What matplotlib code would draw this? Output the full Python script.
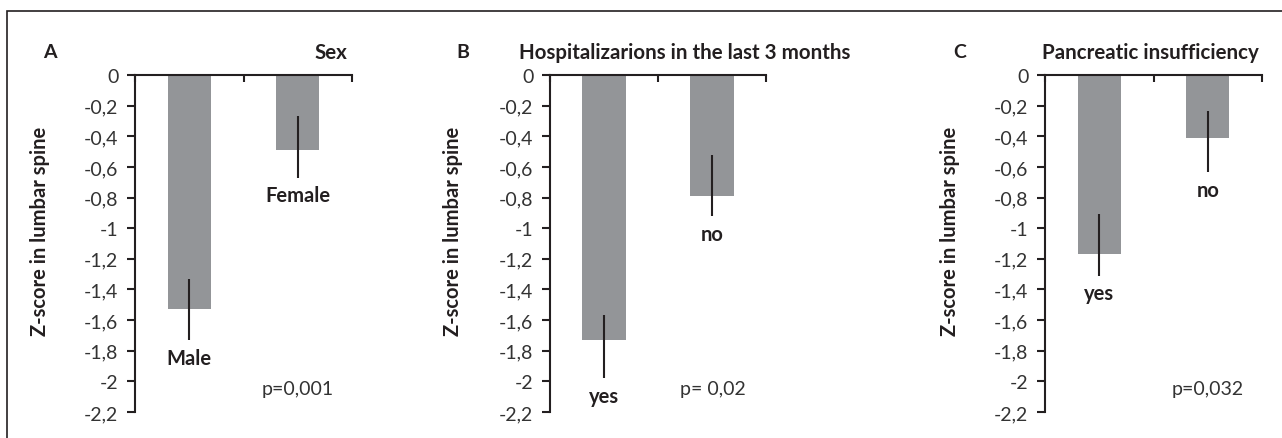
import matplotlib
matplotlib.use('Agg')
import matplotlib.pyplot as plt
from matplotlib.patches import Rectangle

plt.rcParams['font.family'] = ['Lato', 'DejaVu Sans']

# Data
panel_letters = ['A', 'B', 'C']
panel_titles = ['Sex', 'Hospitalizarions in the last 3 months', 'Pancreatic insufficiency']
categories = [['Male', 'Female'], ['yes', 'no'], ['yes', 'no']]
means = [[-1.53, -0.49], [-1.73, -0.79], [-1.17, -0.41]]
err_top = [[-1.33, -0.27], [-1.57, -0.52], [-0.91, -0.235]]
err_bottom = [[-1.73, -0.67], [-1.98, -0.92], [-1.31, -0.635]]
p_values = ['p=0,001', 'p= 0,02', 'p=0,032']
yticks = [0, -0.2, -0.4, -0.6, -0.8, -1, -1.2, -1.4, -1.6, -1.8, -2, -2.2]
ytick_labels = ['0', '-0,2', '-0,4', '-0,6', '-0,8', '-1', '-1,2', '-1,4', '-1,6', '-1,8', '-2', '-2,2']

W, H = 1282, 439
fig = plt.figure(figsize=(W / 100, H / 100), dpi=100)

ink = '#231f20'
bar_color = '#939598'

# pixel layout of each panel (axis left, axis right)
axis_x = [(135, 352), (550, 766), (1045, 1262)]
letter_x = [50, 463, 960]
title_pos = [(347, 'right'), (519, 'left'), (1042, 'left')]
p_x = [262, 680, 1172]
y_top, y_bot = 76, 413

def fx(px):
    return px / W

def fy(py):
    return 1 - py / H

# frame around the figure
fig.patches.append(Rectangle((fx(7), fy(470)), 1.2, fy(12) - fy(470), transform=fig.transFigure,
                             fill=False, edgecolor=ink, linewidth=1.2))

for i in range(3):
    x0, x1 = axis_x[i]
    ax = fig.add_axes([fx(x0), fy(y_bot), fx(x1) - fx(x0), fy(y_top) - fy(y_bot)])
    xs = [0, 1]
    ax.bar(xs, means[i], width=0.4, color=bar_color, zorder=2)
    ax.vlines(xs, err_bottom[i], err_top[i], color=ink, linewidth=1.5, zorder=3)
    for x, lab, lo in zip(xs, categories[i], err_bottom[i]):
        ax.text(x, lo - 0.05, lab, ha='center', va='top', fontsize=14.5, fontweight='bold', color=ink)

    ax.set_xlim(-0.5, 1.5)
    ax.set_ylim(-2.2, 0)
    ax.set_yticks(yticks)
    ax.set_yticklabels(ytick_labels)
    ax.set_xticks([-0.5, 0.5, 1.5])
    ax.set_xticklabels([])
    ax.xaxis.tick_top()
    ax.tick_params(axis='x', direction='in', length=5, width=1.5, color=ink)
    ax.tick_params(axis='y', direction='out', length=6, width=1.5, color=ink,
                   labelsize=14, labelcolor='#333333', pad=6)
    for s in ['bottom', 'right']:
        ax.spines[s].set_visible(False)
    for s in ['top', 'left']:
        ax.spines[s].set_linewidth(1.5)
        ax.spines[s].set_color(ink)
    ax.set_ylabel('Z-score in lumbar spine', fontsize=14.5, fontweight='bold', color=ink)
    ax.yaxis.set_label_coords((letter_x[i] - x0) / (x1 - x0), 0.54)

    fig.text(fx(letter_x[i]), fy(53), panel_letters[i], ha='center', va='center',
             fontsize=14, fontweight='bold', color=ink)
    tx, ha = title_pos[i]
    fig.text(fx(tx), fy(53), panel_titles[i], ha=ha, va='center',
             fontsize=14.8, fontweight='bold', color=ink)
    fig.text(fx(p_x[i]), fy(390), p_values[i], ha='left', va='center',
             fontsize=14, color='#333333')

fig.savefig('out.png', dpi=100, facecolor='white')
